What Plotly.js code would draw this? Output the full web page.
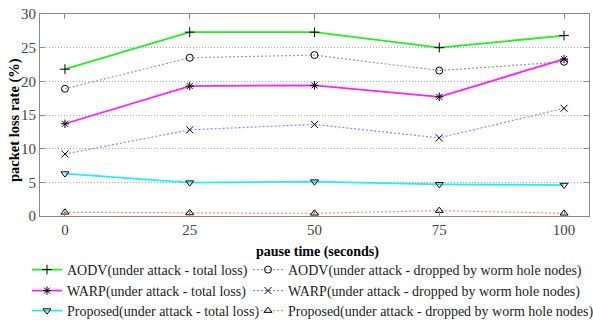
<!DOCTYPE html>
<html>
<head>
<meta charset="utf-8">
<script src="https://cdn.plot.ly/plotly-3.0.1.min.js"></script>
<style>html,body{margin:0;padding:0;background:#fff;}#chart{width:593px;height:320px;}</style>
</head>
<body>
<div id="chart"></div>
<script>
var pauseTime = [0, 25, 50, 75, 100];
var aodvTotal = [21.8, 27.3, 27.3, 25.0, 26.8];
var aodvDropped = [18.9, 23.5, 23.9, 21.6, 22.9];
var warpTotal = [13.7, 19.3, 19.4, 17.7, 23.3];
var warpDropped = [9.2, 12.8, 13.6, 11.6, 16.0];
var proposedTotal = [6.3, 4.95, 5.1, 4.7, 4.6];
var proposedDropped = [0.55, 0.45, 0.4, 0.8, 0.4];
var seriesNames = [
  'AODV(under attack - total loss)',
  'AODV(under attack - dropped by worm hole nodes)',
  'WARP(under attack - total loss)',
  'WARP(under attack - dropped by worm hole nodes)',
  'Proposed(under attack - total loss)',
  'Proposed(under attack - dropped by worm hole nodes)'
];
var xTicks = [0, 25, 50, 75, 100];
var yTicks = [0, 5, 10, 15, 20, 25, 30];
var xTitle = 'pause time (seconds)';
var yTitle = 'packet loss rate (%)';

function tr(y, name, color, dash, width, symbol, legend) {
  return {
    x: pauseTime, y: y, name: name, type: 'scatter', mode: 'lines+markers',
    line: {color: color, dash: dash, width: width},
    marker: {symbol: symbol, size: 7, color: 'black', line: {color: 'black', width: 1}},
    legend: legend
  };
}
var data = [
  tr(aodvTotal, seriesNames[0], '#22ee22', 'solid', 1.8, 'cross-thin-open', 'legend'),
  tr(aodvDropped, seriesNames[1], '#999999', '2px,2px', 1.2, 'circle-open', 'legend2'),
  tr(warpTotal, seriesNames[2], '#ff22ff', 'solid', 1.8, 'asterisk-open', 'legend3'),
  tr(warpDropped, seriesNames[3], '#8888ff', '2px,2px', 1.2, 'x-thin-open', 'legend4'),
  tr(proposedTotal, seriesNames[4], '#22eeee', 'solid', 1.8, 'triangle-down-open', 'legend5'),
  tr(proposedDropped, seriesNames[5], '#ff8888', '2px,2px', 1.2, 'triangle-up-open', 'legend6')
];
var serif = 'Liberation Serif, Times New Roman, serif';
var legFont = {family: serif, size: 14, color: '#222'};
function leg(xpx, ypx) {
  return {
    xref: 'container', yref: 'container', x: xpx / 593, y: 1 - ypx / 320,
    xanchor: 'left', yanchor: 'middle', bgcolor: 'rgba(0,0,0,0)',
    font: legFont, itemwidth: 30
  };
}
var layout = {
  width: 593, height: 320,
  margin: {l: 40, r: 4, t: 14, b: 104, autoexpand: false},
  paper_bgcolor: '#fff', plot_bgcolor: '#fff',
  showlegend: true,
  font: {family: serif, size: 14, color: '#222'},
  xaxis: {
    range: [-5, 105], tickvals: xTicks, ticktext: xTicks.map(String),
    showgrid: false, zeroline: false, showline: true, linecolor: '#888', linewidth: 1,
    mirror: 'ticks', ticks: 'inside', ticklen: 5, tickcolor: '#888',
    tickfont: {family: serif, size: 15, color: '#444'}
  },
  yaxis: {
    range: [0, 30], tickvals: yTicks, ticktext: yTicks.map(String),
    showgrid: true, gridcolor: '#aaa', griddash: '1px,2px', gridwidth: 1,
    zeroline: false, showline: true, linecolor: '#888', linewidth: 1,
    mirror: 'ticks', ticks: 'inside', ticklen: 5, tickcolor: '#888',
    tickfont: {family: serif, size: 15, color: '#444'}
  },
  annotations: [
    {text: '<b>' + xTitle + '</b>', xref: 'paper', yref: 'paper',
     x: (317 - 40) / 549, y: (216 - 252) / 202, xanchor: 'center', yanchor: 'middle',
     showarrow: false, font: {family: serif, size: 14, color: '#000'}},
    {text: '<b>' + yTitle + '</b>', xref: 'paper', yref: 'paper', textangle: -90,
     x: (14 - 40) / 549, y: (216 - 120) / 202, xanchor: 'center', yanchor: 'middle',
     showarrow: false, font: {family: serif, size: 14.5, color: '#000'}}
  ],
  legend: leg(27, 270),
  legend2: leg(248, 270),
  legend3: leg(27, 291),
  legend4: leg(248, 291),
  legend5: leg(27, 311),
  legend6: leg(248, 311)
};
Plotly.newPlot('chart', data, layout, {staticPlot: true, displayModeBar: false});
</script>
</body>
</html>
